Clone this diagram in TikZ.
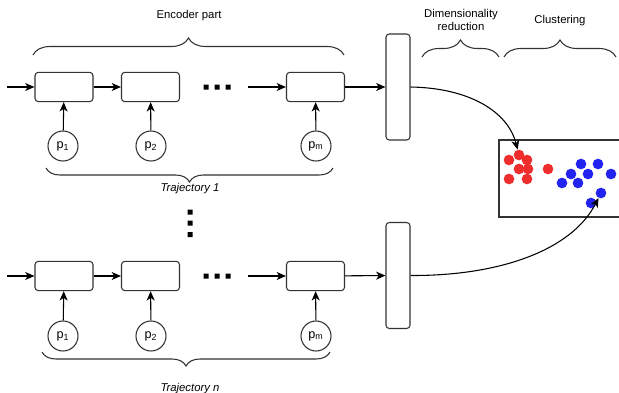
\documentclass[tikz,border=0pt]{standalone}
\usepackage{fontspec}
\setmainfont{Liberation Sans}
\usepackage{tikz}
\usetikzlibrary{arrows.meta, decorations.pathreplacing}
\definecolor{dotred}{RGB}{240,45,45}
\definecolor{dotblue}{RGB}{35,35,240}

\begin{document}
\begin{tikzpicture}[x=0.75pt, y=-0.75pt, font=\fontsize{8.5}{10}\selectfont,
    cell/.style={draw=black!80, line width=0.8pt, rounded corners=2.5pt, minimum width=43.5pt, minimum height=22pt, inner sep=0pt},
    reducer/.style={draw=black!80, line width=0.8pt, rounded corners=2.5pt, minimum width=18pt, minimum height=79.5pt, inner sep=0pt},
    point/.style={circle, draw=black!80, line width=0.8pt, minimum size=22.5pt, inner sep=0pt, font=\fontsize{9.5}{11}\selectfont},
    dot/.style={circle, minimum size=8pt, inner sep=0pt},
    flow/.style={-{Stealth[length=7pt, width=6pt, inset=2pt]}, line width=0.8pt},
    bigbrace/.style={decorate, decoration={brace, amplitude=12.75pt}, draw=black!80, line width=0.8pt},
    lowbrace/.style={decorate, decoration={brace, amplitude=10.5pt}, draw=black!80, line width=0.8pt}]
        \useasboundingbox (0,0) rectangle (619,393);

        % headings and braces
        \node (encoder-label) at (189,16) {Encoder part};
        \node (reduction-label) at (461,20)[align=center] {Dimensionality\\[-0.5pt]reduction};
        \node (clustering-label) at (560,21) {Clustering};
        \draw[bigbrace] (33,55) -- (344,55);
        \draw[bigbrace] (422,57) -- (499,57);
        \draw[bigbrace] (504,57) -- (616,57);

        % trajectory 1
        \coordinate (start-1) at (7,87);
        \coordinate (resume-1) at (248,87);
        \node (cell-1-1) at (64,87)[cell] {};
        \node (cell-1-2) at (150.5,87)[cell] {};
        \node (cell-1-m) at (315.5,87)[cell] {};
        \node (p-1-1) at (63,146)[point] {p\textsubscript{1}};
        \node (p-1-2) at (151,146)[point] {p\textsubscript{2}};
        \node (p-1-m) at (316,146)[point] {p\textsubscript{m}};
        \node (reducer-1) at (398,87)[reducer] {};
        \fill (203.5,84.5) rectangle (208.5,89.5) (214.5,84.5) rectangle (219.5,89.5) (225.5,84.5) rectangle (230.5,89.5);
        \draw[lowbrace] (333,168) -- (46,168);
        \node (trajectory-1) at (190,189) {\itshape Trajectory 1};

        \draw[flow] (start-1) -- (cell-1-1);
        \draw[flow] (cell-1-1) -- (cell-1-2);
        \draw[flow] (resume-1) -- (cell-1-m);
        \draw[flow] (cell-1-m) -- (reducer-1);
        \draw[flow] (p-1-1) -- (cell-1-1);
        \draw[flow] (p-1-2) -- (cell-1-2);
        \draw[flow] (p-1-m) -- (cell-1-m);

        % vertical dots
        \fill (187.5,209.5) rectangle (192.5,214.5) (187.5,220.5) rectangle (192.5,225.5) (187.5,232) rectangle (192.5,237);

        % trajectory n
        \coordinate (start-n) at (7,276);
        \coordinate (resume-n) at (248,276);
        \node (cell-n-1) at (64,276)[cell] {};
        \node (cell-n-2) at (150.5,276)[cell] {};
        \node (cell-n-m) at (315.5,276)[cell] {};
        \node (p-n-1) at (63,336)[point] {p\textsubscript{1}};
        \node (p-n-2) at (151,336)[point] {p\textsubscript{2}};
        \node (p-n-m) at (316,336)[point] {p\textsubscript{m}};
        \node (reducer-n) at (398,275.5)[reducer] {};
        \fill (203.5,273.5) rectangle (208.5,278.5) (214.5,273.5) rectangle (219.5,278.5) (225.5,273.5) rectangle (230.5,278.5);
        \draw[lowbrace] (330,352) -- (42,352);
        \node (trajectory-n) at (190,389) {\itshape Trajectory n};

        \draw[flow] (start-n) -- (cell-n-1);
        \draw[flow] (cell-n-1) -- (cell-n-2);
        \draw[flow] (resume-n) -- (cell-n-m);
        \draw[flow] (cell-n-m) -- (reducer-n);
        \draw[flow] (p-n-1) -- (cell-n-1);
        \draw[flow] (p-n-2) -- (cell-n-2);
        \draw[flow] (p-n-m) -- (cell-n-m);

        % clustering space
        \draw[draw=black!80, line width=0.8pt] (499,140) rectangle (625,217);
        \node (red-1) at (509,160)[dot, fill=dotred] {};
        \node (red-2) at (519,155)[dot, fill=dotred] {};
        \node (red-3) at (527,160)[dot, fill=dotred] {};
        \node (red-4) at (519,169)[dot, fill=dotred] {};
        \node (red-5) at (528,169)[dot, fill=dotred] {};
        \node (red-6) at (509,179)[dot, fill=dotred] {};
        \node (red-7) at (527,179)[dot, fill=dotred] {};
        \node (red-8) at (548,169)[dot, fill=dotred] {};
        \node (blue-1) at (581,164)[dot, fill=dotblue] {};
        \node (blue-2) at (598,164)[dot, fill=dotblue] {};
        \node (blue-3) at (571,174)[dot, fill=dotblue] {};
        \node (blue-4) at (588,174)[dot, fill=dotblue] {};
        \node (blue-5) at (611,174)[dot, fill=dotblue] {};
        \node (blue-6) at (562,183)[dot, fill=dotblue] {};
        \node (blue-7) at (578,183)[dot, fill=dotblue] {};
        \node (blue-8) at (601,193)[dot, fill=dotblue] {};
        \node (blue-9) at (591,203)[dot, fill=dotblue] {};

        \draw[flow] (reducer-1.east) .. controls (470,88) and (508,112) .. (red-2);
        \draw[flow] (reducer-n.east) .. controls (500,276) and (572,250) .. (blue-8);
    \end{tikzpicture}
\end{document}
